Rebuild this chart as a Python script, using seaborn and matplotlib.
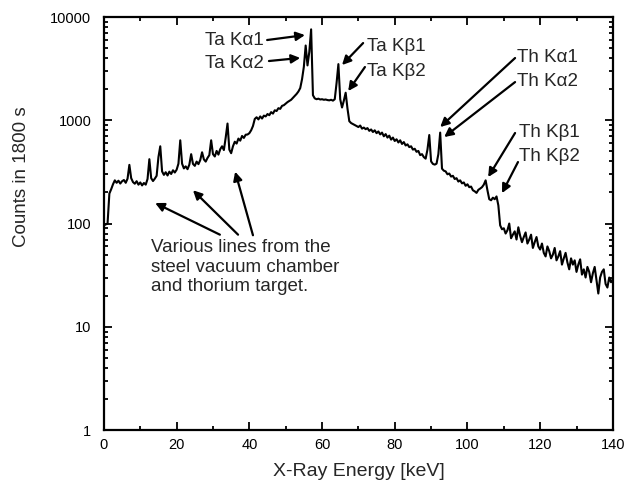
import numpy as np
import pandas as pd
import matplotlib
matplotlib.use("Agg")
import matplotlib.pyplot as plt
import seaborn as sns

# ---- data (0.5 keV channels) ----
energy_step = 0.5
seg_00 = [96, 98, 100, 195, 215, 240, 262, 248, 260, 244, 257, 264, 248, 272, 370, 275, 252, 243, 257, 238]
seg_10 = [250, 234, 247, 238, 270, 420, 275, 258, 272, 290, 440, 560, 320, 296, 314, 292, 318, 302, 328, 312]
seg_20 = [332, 380, 640, 380, 342, 358, 336, 372, 470, 378, 362, 398, 376, 412, 490, 418, 398, 432, 460, 640]
seg_30 = [470, 446, 505, 465, 525, 560, 515, 680, 930, 520, 480, 560, 620, 595, 665, 635, 705, 675, 725, 728]
seg_40 = [750, 800, 880, 1030, 1070, 1020, 1090, 1040, 1110, 1090, 1150, 1120, 1200, 1160, 1250, 1230, 1310, 1290, 1380, 1400]
seg_50 = [1450, 1500, 1540, 1580, 1650, 1720, 1800, 1900, 2050, 2500, 3300, 5300, 3400, 4600, 7600, 1750, 1630, 1600, 1620, 1590]
seg_60 = [1600, 1580, 1590, 1570, 1560, 1580, 1550, 1600, 2300, 3500, 1600, 1330, 1550, 1850, 1300, 980, 940, 920, 900, 880]
seg_70 = [860, 890, 830, 850, 820, 840, 790, 815, 770, 800, 750, 780, 730, 760, 700, 735, 680, 710, 650, 680]
seg_80 = [630, 655, 610, 640, 590, 615, 570, 585, 550, 560, 520, 530, 495, 505, 460, 470, 440, 425, 520, 720]
seg_90 = [400, 378, 372, 380, 470, 760, 340, 325, 320, 300, 305, 285, 290, 270, 275, 255, 262, 245, 250, 232]
seg_100 = [240, 225, 228, 210, 205, 198, 212, 218, 225, 238, 262, 210, 172, 168, 178, 172, 183, 150, 96, 88]
seg_110 = [90, 80, 86, 100, 72, 78, 84, 70, 92, 76, 66, 74, 82, 64, 70, 78, 58, 66, 74, 60]
seg_120 = [56, 64, 52, 48, 60, 54, 46, 50, 58, 44, 48, 54, 40, 46, 52, 42, 36, 46, 40, 44]
seg_130 = [34, 40, 45, 32, 36, 30, 38, 34, 27, 33, 38, 28, 21, 30, 34, 36, 26, 24, 30, 27, 29]

counts = (seg_00 + seg_10 + seg_20 + seg_30 + seg_40 + seg_50 + seg_60 +
          seg_70 + seg_80 + seg_90 + seg_100 + seg_110 + seg_120 + seg_130)
energy = np.arange(len(counts)) * energy_step

x_ticks = [0, 20, 40, 60, 80, 100, 120, 140]
y_ticks = [1, 10, 100, 1000, 10000]
y_tick_labels = ["1", "10", "100", "1000", "10000"]

# annotations: (text, text_x, text_y)
peak_labels = [
    ("Ta K\u03b11", 27.8, 5990), ("Ta K\u03b12", 27.8, 3510),
    ("Ta K\u03b21", 72.4, 5240), ("Ta K\u03b22", 72.4, 3000),
    ("Th K\u03b11", 113.6, 4100), ("Th K\u03b12", 113.6, 2400),
    ("Th K\u03b21", 114.2, 770), ("Th K\u03b22", 114.2, 441),
]
# arrows: (tail_x, tail_y, head_x, head_y)
arrows = [
    (44.9, 5990, 55.3, 6690), (45.4, 3750, 54.0, 4020),
    (71.3, 5600, 65.5, 3430), (71.8, 3280, 67.2, 1920),
    (113.1, 4010, 92.5, 860), (113.1, 2345, 93.6, 688),
    (113.1, 753, 105.7, 282), (113.9, 394, 109.5, 197),
    (31.9, 78, 14.1, 158), (36.9, 78, 24.5, 210), (41.0, 77, 36.1, 318),
]
note_lines = [("Various lines from the", 13.0, 59.2),
              ("steel vacuum chamber", 13.0, 37.9),
              ("and thorium target.", 13.0, 24.3)]

df = pd.DataFrame({"energy": energy, "counts": counts})

sns.set_style("ticks")
plt.rcParams["font.family"] = ["Liberation Sans", "DejaVu Sans"]

fig = plt.figure(figsize=(6.26, 4.87), dpi=100)
ax = fig.add_axes([0.166, 0.117, 0.813, 0.848])

sns.lineplot(data=df, x="energy", y="counts", color="black", linewidth=1.5,
             estimator=None, ax=ax)
ax.set_yscale("log")
ax.set_xlim(0, 140)
ax.set_ylim(1, 10000)
ax.set_xticks(x_ticks)
ax.set_xticklabels([str(v) for v in x_ticks], fontsize=10.5)
ax.xaxis.set_minor_locator(matplotlib.ticker.MultipleLocator(10))
ax.set_yticks(y_ticks)
ax.set_yticklabels(y_tick_labels, fontsize=10.5)
ax.yaxis.set_minor_locator(matplotlib.ticker.LogLocator(base=10, subs=np.arange(2, 10)))
ax.yaxis.set_minor_formatter(matplotlib.ticker.NullFormatter())
ax.tick_params(which="both", direction="in", top=True, right=True, width=1.3, colors="black")
ax.tick_params(which="major", length=6)
ax.tick_params(which="minor", length=3)
ax.tick_params(axis="y", which="major", pad=9)
ax.tick_params(axis="x", which="major", pad=6)
for s in ax.spines.values():
    s.set_linewidth(1.6)
    s.set_color("black")

ax.set_xlabel("X-Ray Energy [keV]", fontsize=14, labelpad=8)
ax.set_ylabel("Counts in 1800 s", fontsize=13.5)
ax.yaxis.set_label_coords(-0.146, 0.613)

for txt, tx, ty in peak_labels:
    ax.text(tx, ty, txt, fontsize=13.5, ha="left", va="center")
for txt, tx, ty in note_lines:
    ax.text(tx, ty, txt, fontsize=13.5, ha="left", va="center")
for x0, y0, x1, y1 in arrows:
    ax.annotate("", xy=(x1, y1), xytext=(x0, y0),
                arrowprops=dict(arrowstyle="-|>", color="black", lw=1.6,
                                mutation_scale=13, shrinkA=0, shrinkB=0))

fig.savefig("out.png", dpi=100)
